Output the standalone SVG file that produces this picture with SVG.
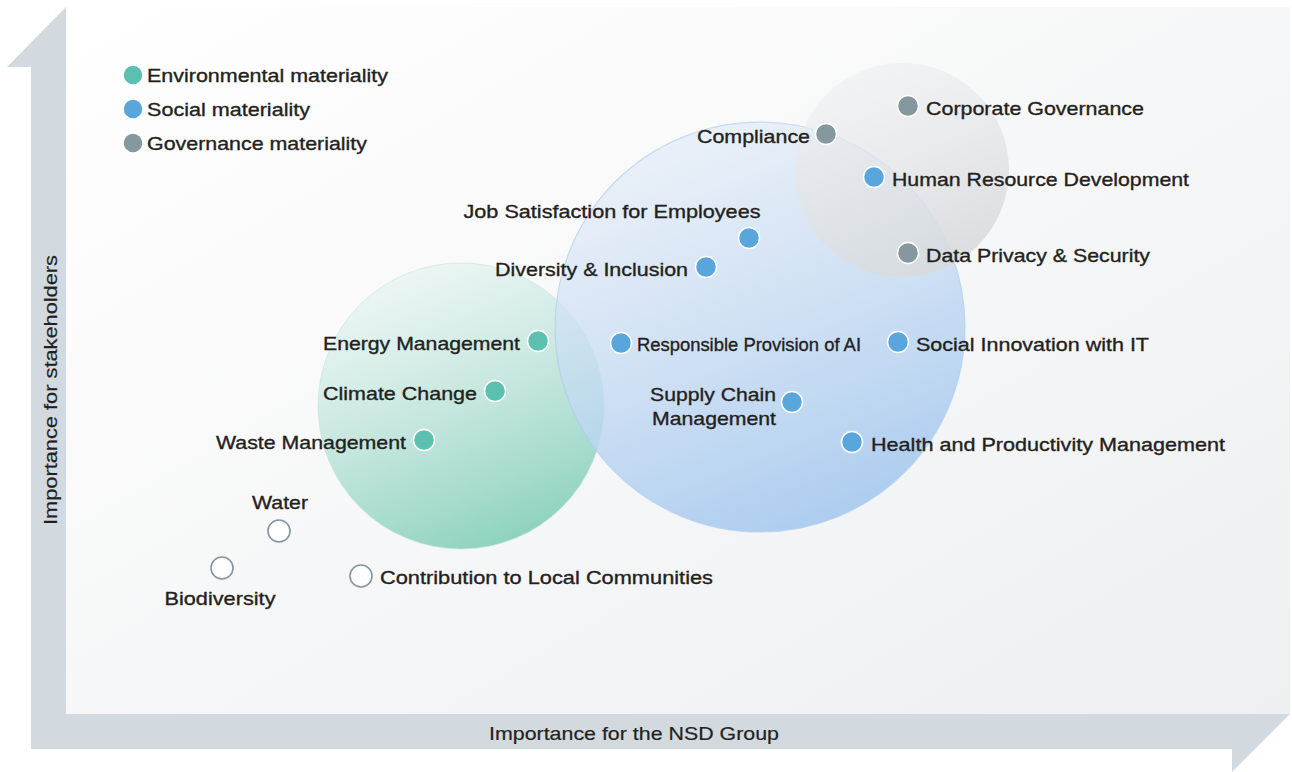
<svg xmlns="http://www.w3.org/2000/svg" width="1292" height="772" viewBox="0 0 1292 772">
<defs>
<linearGradient id="panel" x1="0" y1="0" x2="1" y2="1">
<stop offset="0" stop-color="#ffffff"/>
<stop offset="1" stop-color="#eeeff1"/>
</linearGradient>
<linearGradient id="gEnv" x1="0.2" y1="0" x2="0.6" y2="1">
<stop offset="0" stop-color="#e9f5f2" stop-opacity="0.6"/>
<stop offset="1" stop-color="#8ed2c0"/>
</linearGradient>
<linearGradient id="gSoc" x1="0.2" y1="0" x2="0.6" y2="1">
<stop offset="0" stop-color="#e6eef8" stop-opacity="0.7"/>
<stop offset="1" stop-color="#a6c9ef"/>
</linearGradient>
<linearGradient id="gGov" x1="0.2" y1="0" x2="0.6" y2="1">
<stop offset="0" stop-color="#f0f1f2" stop-opacity="0.7"/>
<stop offset="1" stop-color="#d7dadd"/>
</linearGradient>
</defs>
<style>
text{font-family:"Liberation Sans",Arial,sans-serif;font-size:19px;fill:#231f20;stroke:#231f20;stroke-width:0.35px}
.env{fill:#5cc0b1;stroke:#fff;stroke-width:1.5}
.soc{fill:#58a6dc;stroke:#fff;stroke-width:1.5}
.gov{fill:#85979f;stroke:#fff;stroke-width:1.5}
.non{fill:#fff;stroke:#7f96a3;stroke-width:1.6}
.axis{fill:#d2dae0}
.e{text-anchor:end}
.m{text-anchor:middle}
.ax{stroke-width:0.2px}
</style>
<g id="background">
<rect x="66" y="7" width="1224" height="707" fill="url(#panel)"/>
<polygon class="axis" points="66,7 7,67 31,67 31,749 66,749 66,7"/>
<polygon class="axis" points="31,714 1290,714 1232,772 1232,749 31,749"/>
</g>
<g id="bubbles">
<circle cx="461" cy="406" r="143" fill="url(#gEnv)" stroke="#bfe6dc" stroke-opacity="0.6" stroke-width="1"/>
<circle cx="760" cy="327" r="205" fill="url(#gSoc)" opacity="0.9" stroke="#a9cdf0" stroke-opacity="0.7" stroke-width="1.2"/>
<circle cx="902" cy="170" r="107" fill="url(#gGov)" opacity="0.9"/>
</g>
<g id="legend">
<circle class="env" cx="133" cy="75" r="10"/><text x="147" y="82" textLength="241" lengthAdjust="spacingAndGlyphs">Environmental materiality</text>
<circle class="soc" cx="133" cy="109" r="10"/><text x="147" y="116" textLength="163" lengthAdjust="spacingAndGlyphs">Social materiality</text>
<circle class="gov" cx="133" cy="143" r="10"/><text x="147" y="150" textLength="220" lengthAdjust="spacingAndGlyphs">Governance materiality</text>
</g>
<g id="connectors"></g>
<g id="n-compliance"><circle class="gov" cx="826" cy="134" r="10.5"/><text class="e" x="810" y="143" textLength="113" lengthAdjust="spacingAndGlyphs">Compliance</text></g>
<g id="n-corpgov"><circle class="gov" cx="908" cy="106" r="10.5"/><text x="926" y="115" textLength="218" lengthAdjust="spacingAndGlyphs">Corporate Governance</text></g>
<g id="n-hrd"><circle class="soc" cx="874" cy="177" r="10.5"/><text x="892" y="186" textLength="297" lengthAdjust="spacingAndGlyphs">Human Resource Development</text></g>
<g id="n-jobsat"><circle class="soc" cx="749" cy="238" r="10.5"/><text class="m" x="612" y="218" textLength="297" lengthAdjust="spacingAndGlyphs">Job Satisfaction for Employees</text></g>
<g id="n-diversity"><circle class="soc" cx="706" cy="267" r="10.5"/><text class="e" x="688" y="276" textLength="193" lengthAdjust="spacingAndGlyphs">Diversity &amp; Inclusion</text></g>
<g id="n-privacy"><circle class="gov" cx="908" cy="253" r="10.5"/><text x="926" y="262" textLength="224" lengthAdjust="spacingAndGlyphs">Data Privacy &amp; Security</text></g>
<g id="n-energy"><circle class="env" cx="538" cy="341" r="10.5"/><text class="e" x="520" y="350" textLength="197" lengthAdjust="spacingAndGlyphs">Energy Management</text></g>
<g id="n-ai"><circle class="soc" cx="621" cy="343" r="10.5"/><text x="637" y="351" textLength="224" lengthAdjust="spacingAndGlyphs">Responsible Provision of AI</text></g>
<g id="n-socinno"><circle class="soc" cx="898" cy="342" r="10.5"/><text x="916" y="351" textLength="233" lengthAdjust="spacingAndGlyphs">Social Innovation with IT</text></g>
<g id="n-climate"><circle class="env" cx="495" cy="391" r="10.5"/><text class="e" x="477" y="400" textLength="154" lengthAdjust="spacingAndGlyphs">Climate Change</text></g>
<g id="n-supply"><circle class="soc" cx="792" cy="402" r="10.5"/><text class="m" x="713" y="401" textLength="126" lengthAdjust="spacingAndGlyphs">Supply Chain</text><text class="m" x="714" y="425" textLength="124" lengthAdjust="spacingAndGlyphs">Management</text></g>
<g id="n-health"><circle class="soc" cx="852" cy="442" r="10.5"/><text x="871" y="451" textLength="354" lengthAdjust="spacingAndGlyphs">Health and Productivity Management</text></g>
<g id="n-waste"><circle class="env" cx="424" cy="440" r="10.5"/><text class="e" x="406" y="449" textLength="190" lengthAdjust="spacingAndGlyphs">Waste Management</text></g>
<g id="n-water"><circle class="non" cx="279" cy="531" r="11"/><text class="m" x="280" y="509" textLength="56" lengthAdjust="spacingAndGlyphs">Water</text></g>
<g id="n-bio"><circle class="non" cx="222" cy="568" r="11"/><text class="m" x="220" y="605" textLength="111" lengthAdjust="spacingAndGlyphs">Biodiversity</text></g>
<g id="n-contrib"><circle class="non" cx="361" cy="576" r="11"/><text x="380" y="584" textLength="333" lengthAdjust="spacingAndGlyphs">Contribution to Local Communities</text></g>
<g id="axes-labels">
<text class="m ax" x="634" y="740" textLength="290" lengthAdjust="spacingAndGlyphs">Importance for the NSD Group</text>
<text class="m ax" transform="translate(57,390) rotate(-90)" textLength="270" lengthAdjust="spacingAndGlyphs">Importance for stakeholders</text>
</g>
</svg>
